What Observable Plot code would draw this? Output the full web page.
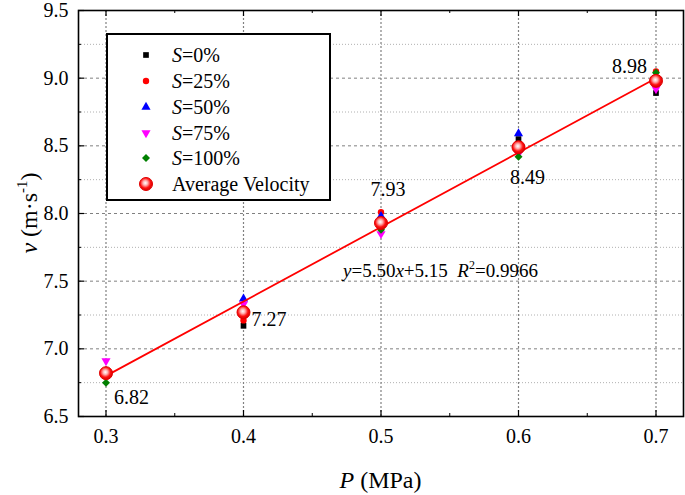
<!DOCTYPE html>
<html><head><meta charset="utf-8">
<script src="https://cdn.jsdelivr.net/npm/d3@7"></script>
<script src="https://cdn.jsdelivr.net/npm/@observablehq/plot@0.6"></script>
<style>
body{margin:0;background:#fff}
svg{display:block}
</style>
</head><body><div id="chart"></div>
<script>
const P = [0.3, 0.4, 0.5, 0.6, 0.7];
const S0 = [6.80, 7.17, 7.93, 8.55, 8.89];
const S25 = [6.83, 7.21, 8.01, 8.47, 9.05];
const S50 = [6.82, 7.37, 7.98, 8.59, 9.01];
const S75 = [6.91, 7.33, 7.85, 8.44, 8.92];
const S100 = [6.75, 7.27, 7.88, 8.42, 9.04];
const avg = [6.82, 7.27, 7.93, 8.49, 8.98];
const fitSlope = 5.50, fitIntercept = 5.15, fitR2 = "0.9966";
const xTicks = [0.3, 0.4, 0.5, 0.6, 0.7];
const xMinor = [0.35, 0.45, 0.55, 0.65];
const yTicks = [6.5, 7.0, 7.5, 8.0, 8.5, 9.0, 9.5];
const yMinor = [6.75, 7.25, 7.75, 8.25, 8.75, 9.25];

const series = [
  {name: "0%", vals: S0, color: "#000000", symbol: "square", r: 3.2, rotate: 0},
  {name: "25%", vals: S25, color: "#ff0000", symbol: "circle", r: 3.2, rotate: 0},
  {name: "50%", vals: S50, color: "#0000ff", symbol: "triangle", r: 3.4, rotate: 0},
  {name: "75%", vals: S75, color: "#ff00ff", symbol: "triangle", r: 3.4, rotate: 180},
  {name: "100%", vals: S100, color: "#008000", symbol: "diamond2", r: 3.6, rotate: 0}
];
const avgData = P.map((x, i) => ({x, y: avg[i]}));
const fitData = [P[0], P[P.length - 1]].map(x => ({x, y: fitSlope * x + fitIntercept}));
const labelOffsets = [
  {dx: 8, dy: 24, anchor: "start"}, {dx: 8, dy: 7, anchor: "start"},
  {dx: 7, dy: -33, anchor: "middle"}, {dx: 9, dy: 30, anchor: "middle"},
  {dx: -9, dy: -14, anchor: "end"}
];

const W = 685, H = 495, mL = 78, mR = 2, mT = 10, mB = 79;
const frameH = H - mT - mB, frameW = W - mL - mR;
const font = "Liberation Serif";

const marks = [
  Plot.ruleY(yMinor, {stroke: "#b0b0b0", strokeDasharray: "1,2", strokeWidth: 1}),
  Plot.ruleY(yTicks.slice(1, -1), {stroke: "#808080", strokeDasharray: "3,3", strokeWidth: 1}),
  Plot.ruleX(xTicks, {stroke: "#808080", strokeDasharray: "2,2", strokeWidth: 1.2}),
  Plot.tickX(xTicks, {x: d => d, insetTop: frameH - 6, stroke: "#000", strokeWidth: 1.2}),
  Plot.tickX(xTicks, {x: d => d, insetBottom: frameH - 6, stroke: "#000", strokeWidth: 1.2}),
  Plot.tickX(xMinor, {x: d => d, insetBottom: frameH - 3, stroke: "#000", strokeWidth: 1}),
  Plot.tickX(xMinor, {x: d => d, insetTop: frameH - 3, stroke: "#000", strokeWidth: 1}),
  Plot.tickY(yTicks, {y: d => d, insetRight: frameW - 6, stroke: "#000", strokeWidth: 1.2}),
  Plot.tickY(yMinor, {y: d => d, insetRight: frameW - 3, stroke: "#000", strokeWidth: 1}),
  Plot.axisX({ticks: xTicks, tickSize: 0, tickPadding: 12, tickFormat: d3.format(".1f"), label: null, fontSize: 20, fill: "#000"}),
  Plot.axisY({ticks: yTicks, tickSize: 0, tickPadding: 10, tickFormat: d3.format(".1f"), label: null, fontSize: 20, fill: "#000"}),
];
for (const s of series) {
  marks.push(Plot.dot(P.map((x, i) => ({x, y: s.vals[i]})), {
    x: "x", y: "y", symbol: s.symbol, r: s.r, fill: s.color, stroke: "none", rotate: s.rotate
  }));
}
marks.push(Plot.line(fitData, {x: "x", y: "y", stroke: "#ff0000", strokeWidth: 1.8}));
marks.push(Plot.dot(avgData, {x: "x", y: "y", r: 6.5, fill: "url(#avgGrad)", stroke: "#e00000", strokeWidth: 1}));
avgData.forEach((d, i) => {
  const o = labelOffsets[i];
  marks.push(Plot.text([d], {x: "x", y: "y", text: v => v.y.toFixed(2), fontSize: 20, fill: "#000",
    dx: o.dx, dy: o.dy, textAnchor: o.anchor}));
});
marks.push(Plot.frame({stroke: "#000", strokeWidth: 1.6}));

const plot = Plot.plot({
  width: W, height: H,
  marginLeft: mL, marginRight: mR, marginTop: mT, marginBottom: mB,
  style: {fontFamily: font, fontSize: "19px"},
  x: {domain: [0.28, 0.72]},
  y: {domain: [6.5, 9.5]},
  marks
});
document.getElementById("chart").appendChild(plot);

const svg = d3.select(plot);
const defs = svg.insert("defs", ":first-child");
const g = defs.append("radialGradient").attr("id", "avgGrad").attr("cx", "45%").attr("cy", "42%").attr("r", "60%");
g.append("stop").attr("offset", "0%").attr("stop-color", "#ffffff");
g.append("stop").attr("offset", "30%").attr("stop-color", "#ffb0b0");
g.append("stop").attr("offset", "65%").attr("stop-color", "#ff1010");
g.append("stop").attr("offset", "100%").attr("stop-color", "#d00000");

const eq = svg.append("text").attr("x", 343).attr("y", 277).attr("text-anchor", "start")
  .attr("font-size", 19).attr("fill", "#000");
eq.append("tspan").attr("font-style", "italic").text("y");
eq.append("tspan").text("=" + fitSlope.toFixed(2));
eq.append("tspan").attr("font-style", "italic").text("x");
eq.append("tspan").text("+" + fitIntercept.toFixed(2) + "\u2002");
eq.append("tspan").attr("font-style", "italic").text("R");
eq.append("tspan").attr("font-size", 12).attr("dy", -8).text("2");
eq.append("tspan").attr("dy", 8).text("=" + fitR2);

const xl = svg.append("text").attr("x", mL + frameW / 2).attr("y", 488).attr("text-anchor", "middle")
  .attr("font-size", 24).attr("fill", "#000");
xl.append("tspan").attr("font-style", "italic").text("P");
xl.append("tspan").text(" (MPa)");
const yl = svg.append("text").attr("transform", `translate(37,${mT + frameH / 2}) rotate(-90)`).attr("text-anchor", "middle")
  .attr("font-size", 24).attr("fill", "#000");
yl.append("tspan").attr("font-style", "italic").text("v");
yl.append("tspan").text(" (m\u00b7s");
yl.append("tspan").attr("font-size", 15).attr("dy", -10).text("-1");
yl.append("tspan").attr("dy", 10).text(")");

const lg = svg.append("g");
lg.append("rect").attr("x", 107).attr("y", 34).attr("width", 223).attr("height", 166)
  .attr("fill", "#fff").attr("stroke", "#000").attr("stroke-width", 2);
const rows = [55, 81, 107, 133, 158, 184];
const symMap = {square: d3.symbolSquare, circle: d3.symbolCircle, triangle: d3.symbolTriangle, diamond2: d3.symbolDiamond2};
series.forEach((s, i) => {
  const size = Math.PI * s.r * s.r;
  lg.append("path").attr("d", d3.symbol(symMap[s.symbol], size)())
    .attr("transform", `translate(146,${rows[i]}) rotate(${s.rotate})`).attr("fill", s.color);
  const t = lg.append("text").attr("x", 172).attr("y", rows[i] + 6.5).attr("text-anchor", "start")
    .attr("font-size", 20).attr("fill", "#000");
  t.append("tspan").attr("font-style", "italic").text("S");
  t.append("tspan").text("=" + s.name);
});
lg.append("circle").attr("cx", 146).attr("cy", rows[5]).attr("r", 6.5).attr("fill", "url(#avgGrad)").attr("stroke", "#e00000");
lg.append("text").attr("x", 172).attr("y", rows[5] + 6.5).attr("text-anchor", "start")
  .attr("font-size", 20).attr("fill", "#000").text("Average Velocity");

svg.attr("font-family", font);
svg.selectAll("text, tspan").attr("font-family", font);
</script>
</body></html>
